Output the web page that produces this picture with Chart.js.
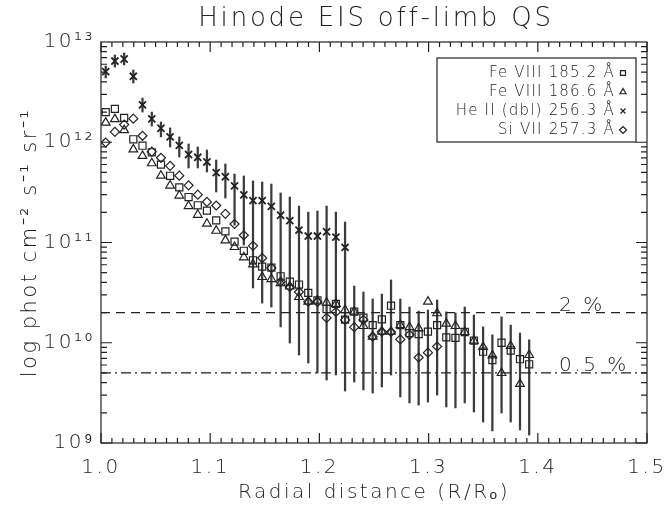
<!DOCTYPE html>
<html>
<head>
<meta charset="utf-8">
<script src="https://cdn.jsdelivr.net/npm/chart.js@4.4.1/dist/chart.umd.min.js"></script>
<style>
  html, body { margin: 0; padding: 0; background: #fff; }
  #wrap { width: 665px; height: 510px; }
</style>
</head>
<body>
<div id="wrap"><canvas id="chart" width="665" height="510"></canvas></div>
<script>
// radial positions of the off-limb bins (R/Rsun)
const radius = [1.0043, 1.0127, 1.0212, 1.0296, 1.0380, 1.0465, 1.0549, 1.0633, 1.0717, 1.0802,
  1.0886, 1.0970, 1.1055, 1.1139, 1.1223, 1.1308, 1.1392, 1.1476, 1.1560, 1.1645,
  1.1729, 1.1813, 1.1898, 1.1982, 1.2066, 1.2151, 1.2235, 1.2319, 1.2403, 1.2488,
  1.2572, 1.2656, 1.2741, 1.2825, 1.2909, 1.2994, 1.3078, 1.3162, 1.3246, 1.3331,
  1.3415, 1.3499, 1.3584, 1.3668, 1.3752, 1.3837, 1.3921];

// intensities, phot cm-2 s-1 sr-1
const fe185 = [2.00e12, 2.15e12, 1.75e12, 1.07e12, 9.24e11, 7.94e11, 5.99e11, 4.63e11, 3.55e11, 2.84e11,
  2.35e11, 2.08e11, 1.66e11, 1.29e11, 1.02e11, 8.27e10, 6.65e10, 5.74e10, 5.61e10, 4.60e10,
  4.06e10, 3.81e10, 3.14e10, 2.64e10, 2.17e10, 2.44e10, 1.70e10, 2.04e10, 1.78e10, 1.50e10,
  1.71e10, 2.34e10, 1.50e10, 1.25e10, 1.22e10, 1.29e10, 1.50e10, 1.13e10, 1.12e10, 1.28e10,
  1.05e10, 8.14e9, 6.73e9, 1.00e10, 8.37e9, 6.85e9, 6.10e9];
const fe186 = [1.57e12, 1.70e12, 1.32e12, 8.50e11, 7.32e11, 6.17e11, 4.64e11, 3.70e11, 2.94e11, 2.31e11,
  1.89e11, 1.54e11, 1.31e11, 1.05e11, 9.02e10, 7.12e10, 6.06e10, 4.53e10, 4.32e10, 3.94e10,
  3.64e10, 2.86e10, 2.57e10, 2.64e10, 2.51e10, 2.44e10, 2.12e10, 2.04e10, 1.47e10, 1.15e10,
  1.29e10, 1.29e10, 1.50e10, 1.43e10, 1.39e10, 2.57e10, 1.97e10, 1.55e10, 1.47e10, 1.28e10,
  1.05e10, 9.07e9, 7.49e9, 4.99e9, 9.28e9, 3.88e9, 7.55e9];
const he256 = [5.06e12, 6.46e12, 6.77e12, 4.55e12, 2.36e12, 1.71e12, 1.38e12, 1.13e12, 9.30e11, 7.55e11,
  7.08e11, 6.36e11, 4.97e11, 4.53e11, 3.67e11, 2.99e11, 2.62e11, 2.62e11, 2.29e11, 1.87e11,
  1.65e11, 1.33e11, 1.16e11, 1.16e11, 1.28e11, 1.13e11, 8.95e10];
const si257 = [9.94e11, 1.27e12, 1.50e12, 1.72e12, 1.16e12, 8.05e11, 7.00e11, 5.82e11, 4.64e11, 3.72e11,
  3.00e11, 2.54e11, 2.34e11, 1.93e11, 1.53e11, 1.18e11, 9.27e10, 7.00e10, 5.57e10, 4.06e10,
  3.60e10, 3.21e10, 2.57e10, 2.55e10, 1.77e10, 2.03e10, 1.69e10, 1.43e10, 1.69e10, 1.15e10,
  1.29e10, 1.28e10, 1.08e10, 1.20e10, 7.13e9, 7.96e9, 9.18e9];

// error bar ends
const errHigh = [5.76e12, 7.42e12, 7.77e12, 5.26e12, 2.76e12, 2.00e12, 1.59e12, 1.39e12, 1.13e12, 9.61e11,
  8.97e11, 8.37e11, 6.65e11, 6.07e11, 4.82e11, 4.61e11, 4.11e11, 4.01e11, 3.83e11, 3.12e11,
  2.84e11, 2.31e11, 2.01e11, 2.06e11, 2.31e11, 2.01e11, 1.60e11, 3.68e10, 3.21e10, 2.73e10,
  3.06e10, 4.23e10, 2.73e10, 2.27e10, 2.07e10, 2.12e10, 2.67e10, 2.03e10, 1.98e10, 2.27e10,
  1.89e10, 1.44e10, 1.20e10, 1.81e10, 1.50e10, 1.25e10, 1.07e10];
const errLow = [4.37e12, 5.63e12, 5.90e12, 3.90e12, 2.00e12, 1.45e12, 1.13e12, 8.97e11, 7.13e11, 5.54e11,
  5.54e11, 5.05e11, 3.19e11, 2.78e11, 1.49e11, 9.44e10, 3.52e10, 2.49e10, 2.27e10, 1.44e10,
  9.94e9, 7.55e9, 6.28e9, 4.99e9, 4.25e9, 4.77e9, 3.30e9, 4.06e9, 3.38e9, 3.15e9,
  3.62e9, 4.77e9, 2.88e9, 2.51e9, 2.39e9, 2.56e9, 3.01e9, 2.29e9, 2.24e9, 2.51e9,
  2.04e9, 1.62e9, 1.32e9, 1.99e9, 1.62e9, 1.35e9, 1.20e9];

const lineNames = ['Fe VIII 185.2 Å', 'Fe VIII 186.6 Å', 'He II (dbl) 256.3 Å', 'Si VII 257.3 Å'];
const refLevels = [2e10, 5e9];
const refLabels = ['2 %', '0.5 %'];
const xTicks = [1.0, 1.1, 1.2, 1.3, 1.4, 1.5];
const yTicks = [1e9, 1e10, 1e11, 1e12, 1e13];
const chartTitle = 'Hinode EIS off-limb QS';

const FONT = "'DejaVu Sans', sans-serif";
const INK = '#222';
const SUP = { '0': '⁰', '1': '¹', '2': '²', '3': '³', '4': '⁴', '5': '⁵', '6': '⁶', '7': '⁷', '8': '⁸', '9': '⁹' };

function toPoints(values) {
  return values.map((v, i) => ({ x: radius[i], y: v }));
}

function markerSet(label, values, style, size, width) {
  return {
    type: 'scatter', label, data: toPoints(values),
    pointStyle: style, pointRadius: size, borderColor: INK, backgroundColor: 'rgba(0,0,0,0)',
    pointBorderWidth: width, borderWidth: width, order: 1
  };
}

function refLine(level, dash) {
  return {
    type: 'line', data: [{ x: 1.0, y: level }, { x: 1.5, y: level }],
    borderColor: INK, borderWidth: 1.2, borderDash: dash, pointRadius: 0, order: 2
  };
}

// wide spacing, like the old plotting font
const spacingPlugin = {
  id: 'spacing',
  beforeDraw(chart) { chart.ctx.letterSpacing = '2.5px'; }
};

// frame with inward ticks, title, labels and legend
const framePlugin = {
  id: 'frame',
  afterDatasetsDraw(chart) {
    const { ctx, chartArea: a, scales: { x, y } } = chart;
    ctx.save();
    ctx.strokeStyle = INK;
    ctx.lineWidth = 1.2;
    ctx.strokeRect(a.left, a.top, a.right - a.left, a.bottom - a.top);
    ctx.beginPath();
    for (let i = 0; i <= 50; i++) {
      const px = x.getPixelForValue(1 + i / 100);
      const len = i % 10 === 0 ? 10 : 5;
      ctx.moveTo(px, a.bottom); ctx.lineTo(px, a.bottom - len);
      ctx.moveTo(px, a.top); ctx.lineTo(px, a.top + len);
    }
    for (let e = 9; e <= 12; e++) {
      for (let m = 1; m <= 9; m++) {
        const py = y.getPixelForValue(m * Math.pow(10, e));
        const len = m === 1 ? 11 : 6;
        ctx.moveTo(a.left, py); ctx.lineTo(a.left + len, py);
        ctx.moveTo(a.right, py); ctx.lineTo(a.right - len, py);
      }
    }
    ctx.stroke();

    // title
    ctx.fillStyle = INK;
    ctx.letterSpacing = '2.8px';
    ctx.font = '300 26px ' + FONT;
    ctx.textAlign = 'center';
    ctx.textBaseline = 'middle';
    ctx.fillText(chartTitle, (a.left + a.right) / 2 + 2, 19);

    // percentage labels on the reference lines
    ctx.letterSpacing = '2.5px';
    ctx.font = '300 20px ' + FONT;
    ctx.textAlign = 'left';
    ctx.textBaseline = 'alphabetic';
    refLevels.forEach((lv, i) => {
      ctx.fillText(refLabels[i], x.getPixelForValue(1.4195), y.getPixelForValue(lv) - 2);
    });

    // legend box
    const bx = a.right - 210, by = a.top + 16, bw = 199, bh = 84;
    ctx.fillStyle = '#fff';
    ctx.fillRect(bx, by, bw, bh);
    ctx.lineWidth = 1.2;
    ctx.strokeRect(bx, by, bw, bh);
    ctx.letterSpacing = '1.2px';
    ctx.font = '300 15px ' + FONT;
    ctx.textAlign = 'right';
    ctx.textBaseline = 'middle';
    const styles = ['rect', 'triangle', 'crossRot', 'rectRot'];
    lineNames.forEach((name, i) => {
      const ly = by + 15 + i * 19;
      ctx.fillStyle = INK;
      ctx.fillText(name, bx + bw - 21, ly);
      ctx.fillStyle = 'rgba(0,0,0,0)';
      ctx.strokeStyle = INK;
      Chart.helpers.drawPoint(ctx, { pointStyle: styles[i], radius: 3.5, borderWidth: 1.1 }, bx + bw - 13, ly);
    });
    ctx.restore();
  }
};

const chart = new Chart(document.getElementById('chart').getContext('2d'), {
  type: 'scatter',
  data: {
    datasets: [
      {
        type: 'bar', data: radius.map((r, i) => ({ x: r, y: [errLow[i], errHigh[i]] })),
        backgroundColor: '#3c3c3c', borderWidth: 0, barThickness: 1.6, grouped: false, order: 10
      },
      markerSet(lineNames[0], fe185, 'rect', 5, 1.2),
      markerSet(lineNames[1], fe186, 'triangle', 5, 1.2),
      markerSet(lineNames[2], he256, 'crossRot', 5, 1.8),
      markerSet(lineNames[3], si257, 'rectRot', 4.5, 1.2),
      refLine(refLevels[0], [9, 6]),
      refLine(refLevels[1], [10, 4, 2, 4])
    ]
  },
  options: {
    responsive: false,
    animation: false,
    layout: { padding: { left: 0, right: 18, top: 42, bottom: 0 } },
    plugins: {
      legend: { display: false },
      tooltip: { enabled: false },
      title: { display: false }
    },
    scales: {
      x: {
        type: 'linear', min: 1.0, max: 1.5, offset: false,
        grid: { display: false, drawTicks: false }, border: { display: false },
        afterBuildTicks: s => { s.ticks = xTicks.map(v => ({ value: v })); },
        ticks: { callback: v => v.toFixed(1), color: INK, font: { family: FONT, size: 20, weight: '300' }, padding: 13, maxRotation: 0, autoSkip: false },
        title: { display: true, text: 'Radial distance (R/Rₒ)', color: INK, font: { family: FONT, size: 20, weight: '300' }, padding: { top: 0, bottom: 5 } },
        afterFit: s => { s.height = 67; s.paddingLeft = 0; s.paddingRight = 0; }
      },
      y: {
        type: 'logarithmic', min: 1e9, max: 1e13,
        grid: { display: false, drawTicks: false }, border: { display: false },
        afterBuildTicks: s => { s.ticks = yTicks.map(v => ({ value: v })); },
        ticks: {
          callback: v => '10' + String(Math.round(Math.log10(v))).split('').map(c => SUP[c]).join(''),
          color: INK, font: { family: FONT, size: 20, weight: '300' }, padding: 6
        },
        title: { display: true, text: 'log phot cm⁻² s⁻¹ sr⁻¹', color: INK, font: { family: FONT, size: 21, weight: '300' }, padding: { top: 18, bottom: 0 } },
        afterFit: s => { s.width = 101; s.paddingTop = 0; s.paddingBottom = 0; }
      }
    }
  },
  plugins: [spacingPlugin, framePlugin]
});
</script>
</body>
</html>
